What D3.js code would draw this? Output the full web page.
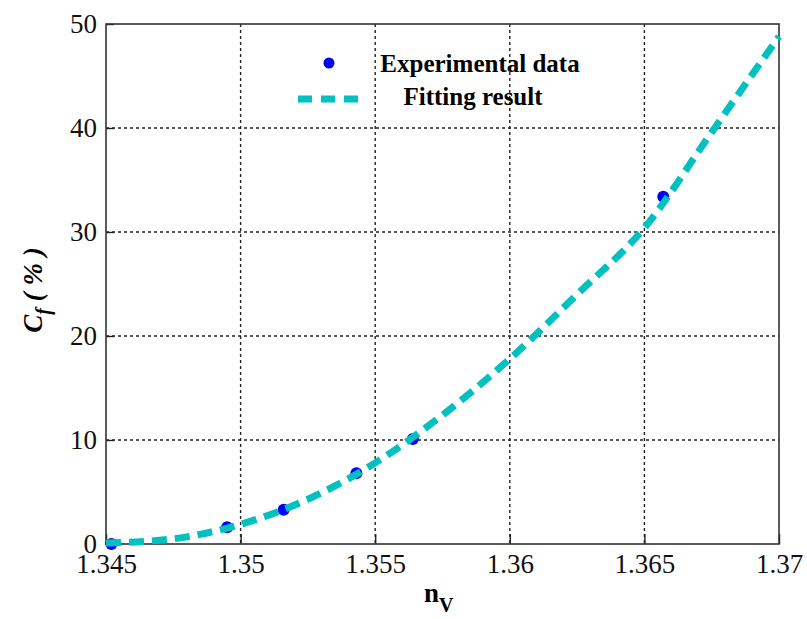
<!DOCTYPE html>
<html>
<head>
<meta charset="utf-8">
<script src="https://cdn.jsdelivr.net/npm/d3@7"></script>
<style>
  body { margin: 0; background: #fff; }
  text { font-family: "Liberation Serif", "Times New Roman", serif; }
</style>
</head>
<body>
<svg id="chart" width="807" height="619"></svg>
<script>
// experimental points
var expN = [1.3452, 1.3495, 1.3516, 1.3543, 1.3564, 1.3657];
var expC = [0.0, 1.6, 3.3, 6.8, 10.1, 33.4];

// fitted curve
var fitN = [1.345, 1.3475, 1.35, 1.3525, 1.355, 1.3575, 1.36, 1.3625, 1.365, 1.3675, 1.37];
var fitC = [0.1, 0.5, 1.9, 4.3, 7.8, 12.4, 17.8, 24.0, 30.4, 39.6, 48.8];

var xTicks = [1.345, 1.35, 1.355, 1.36, 1.365, 1.37];
var xTickLabels = ["1.345", "1.35", "1.355", "1.36", "1.365", "1.37"];
var yTicks = [0, 10, 20, 30, 40, 50];

var svg = d3.select("#chart");
var pLeft = 106, pRight = 779, pTop = 24, pBottom = 544;

var x = d3.scaleLinear().domain([1.345, 1.37]).range([pLeft, pRight]);
var y = d3.scaleLinear().domain([0, 50]).range([pBottom, pTop]);

// grid
var grid = svg.append("g");
grid.selectAll(".gx").data(xTicks.slice(1, -1)).enter().append("line")
  .attr("x1", function(d) { return x(d); }).attr("x2", function(d) { return x(d); })
  .attr("y1", pTop).attr("y2", pBottom)
  .attr("stroke", "#222").attr("stroke-width", 1.4).attr("stroke-dasharray", "3,3");
grid.selectAll(".gy").data(yTicks.slice(1, -1)).enter().append("line")
  .attr("x1", pLeft).attr("x2", pRight)
  .attr("y1", function(d) { return y(d); }).attr("y2", function(d) { return y(d); })
  .attr("stroke", "#222").attr("stroke-width", 1.4).attr("stroke-dasharray", "3,3");

// axes
var xAxis = d3.axisBottom(x).tickValues(xTicks).tickSize(-10).tickPadding(10)
  .tickFormat(function(d, i) { return xTickLabels[i]; });
var yAxis = d3.axisLeft(y).tickValues(yTicks).tickSize(-8).tickPadding(9);

var gx = svg.append("g").attr("transform", "translate(0," + pBottom + ")").call(xAxis);
var gy = svg.append("g").attr("transform", "translate(" + pLeft + ",0)").call(yAxis);
[gx, gy].forEach(function(g) {
  g.select(".domain").remove();
  g.selectAll(".tick line").attr("stroke", "#222").attr("stroke-width", 1.4);
  g.selectAll(".tick text").attr("fill", "#111").style("font-size", "27px");
});
gy.selectAll(".tick text").attr("dy", "0.3em");

// frame
svg.append("rect").attr("x", pLeft).attr("y", pTop)
  .attr("width", pRight - pLeft).attr("height", pBottom - pTop)
  .attr("fill", "none").attr("stroke", "#333").attr("stroke-width", 1.6);

// fitted line
var line = d3.line()
  .x(function(d, i) { return x(fitN[i]); })
  .y(function(d, i) { return y(fitC[i]); })
  .curve(d3.curveMonotoneX);

// experimental markers
svg.selectAll(".pt").data(expN).enter().append("circle")
  .attr("cx", function(d) { return x(d); })
  .attr("cy", function(d, i) { return y(expC[i]); })
  .attr("r", 6).attr("fill", "#0000ff");

svg.append("path").datum(fitC).attr("d", line)
  .attr("fill", "none").attr("stroke", "#00c0c0").attr("stroke-width", 7)
  .attr("stroke-dasharray", "15,8");

// legend
var legend = svg.append("g");
legend.append("circle").attr("cx", 329).attr("cy", 63).attr("r", 5.5).attr("fill", "#0000ff");
legend.append("line").attr("x1", 298).attr("x2", 360).attr("y1", 99).attr("y2", 99)
  .attr("stroke", "#00c0c0").attr("stroke-width", 7).attr("stroke-dasharray", "14,9");
legend.append("text").attr("x", 480).attr("y", 72).attr("text-anchor", "middle")
  .style("font-size", "25px").style("font-weight", "bold").text("Experimental data");
legend.append("text").attr("x", 473).attr("y", 105).attr("text-anchor", "middle")
  .style("font-size", "25px").style("font-weight", "bold").text("Fitting result");

// axis titles
var xl = svg.append("text").attr("x", 424).attr("y", 602)
  .style("font-size", "27px").style("font-weight", "bold");
xl.append("tspan").text("n");
xl.append("tspan").attr("dy", 10).style("font-size", "20px").text("V");

var yl = svg.append("text").attr("transform", "translate(42,290) rotate(-90)")
  .attr("text-anchor", "middle")
  .style("font-size", "27px").style("font-weight", "bold").style("font-style", "italic");
yl.append("tspan").text("C");
yl.append("tspan").attr("dy", 8).style("font-size", "20px").text("f");
yl.append("tspan").attr("dy", -8).text(" ( % )");
</script>
</body>
</html>
